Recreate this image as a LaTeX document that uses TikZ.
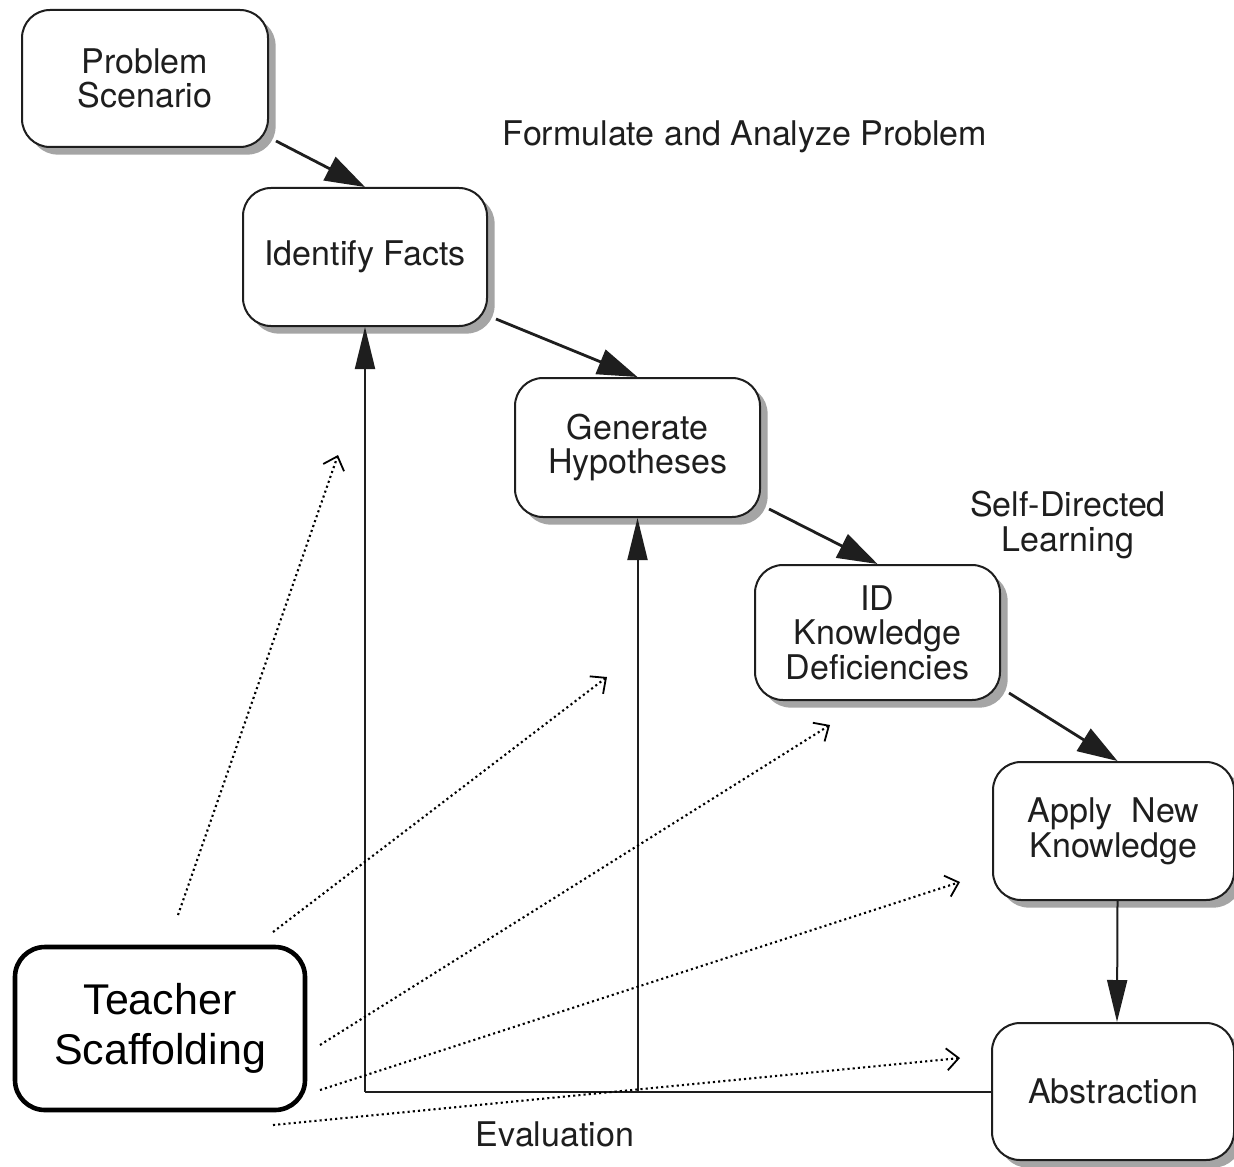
\documentclass[tikz,border=0pt]{standalone}
\usepackage{fontspec}
\setmainfont{TeX Gyre Heros}
\newfontfamily\arialfont{Liberation Sans}
\usetikzlibrary{arrows.meta,shadows,calc}
\definecolor{ink}{HTML}{1E1E1E}
\definecolor{shade}{HTML}{A5A5A5}
\begin{document}
\begin{tikzpicture}[x=0.5pt,y=-0.5pt,
  stepbox/.style={draw=ink,line width=1pt,rounded corners=14pt,fill=white,
    align=center,text=ink,font=\fontsize{17}{17.3}\selectfont,inner sep=0pt,
    drop shadow={shadow xshift=3.8pt,shadow yshift=-3.8pt,fill=shade,opacity=1}},
  teacherbox/.style={draw=black,line width=2.3pt,rounded corners=15pt,fill=white,
    align=center,font=\arialfont\fontsize{21.5}{25}\selectfont,inner sep=0pt},
  plainlabel/.style={text=ink,align=center,font=\fontsize{17}{17.5}\selectfont},
  bigarrow/.style={draw=ink,line width=1.4pt,-{Triangle[length=20pt,width=13pt]}},
  evalarrow/.style={draw=ink,line width=1pt,-{Triangle[length=21pt,width=10pt]}},
  evalline/.style={draw=ink,line width=1pt},
  scaffarrow/.style={draw=black,line width=1.05pt,dash pattern=on 1.05pt off 1.55pt,
    -{Straight Barb[length=6pt,width=11pt,line width=0.9pt]}}
]
\useasboundingbox[fill=white] (0,0) rectangle (1234,1166);

\node[stepbox,minimum width=123pt,minimum height=68.5pt] (PS) at (145,78.5) {Problem\\Scenario};
\node[stepbox,minimum width=122pt,minimum height=69pt] (IF) at (365,257) {Identify Facts};
\node[stepbox,minimum width=122.5pt,minimum height=69.5pt] (GH) at (637.5,447.5) {Generate\\Hypotheses};
\node[stepbox,minimum width=122.5pt,minimum height=67.5pt] (ID) at (877.5,632.5) {ID\\Knowledge\\Deficiencies};
\node[stepbox,minimum width=120.5pt,minimum height=69pt] (AN) at (1113.5,831) {Apply\ \ New\\Knowledge};
\node[stepbox,minimum width=121pt,minimum height=68.5pt] (AB) at (1113,1091.5) {Abstraction};
\node[teacherbox,minimum width=145pt,minimum height=81.5pt] (TS) at (160,1028.5) {Teacher\\Scaffolding};

\node[plainlabel] (FA) at (745,137) {Formulate and Analyze Problem};
\node[plainlabel] (SD) at (1068,525) {Self-Directed\\Learning};
\node[plainlabel] (EV) at (555,1134) {Evaluation};

\draw[bigarrow] ($(PS.south east)+(7,-7)$) -- (IF.north);
\draw[bigarrow] ($(IF.south east)+(8,-8)$) -- (GH.north);
\draw[bigarrow] ($(GH.south east)+(8,-9)$) -- (ID.north);
\draw[bigarrow] ($(ID.south east)+(8,-8)$) -- ($(AN.north)+(4,0)$);
\draw[evalarrow] ($(AN.south)+(4,0)$) -- ($(AB.north)+(4,0)$);

\coordinate (ev1) at (IF.south |- AB.west);
\coordinate (ev2) at (GH.south |- AB.west);
\draw[evalline] (AB.west) -- (ev1);
\draw[evalarrow] (ev1) -- (IF.south);
\draw[evalarrow] (ev2) -- (GH.south);

\coordinate (s1) at (178,915);  \coordinate (t1) at (338,455);
\coordinate (s2) at (273,932);  \coordinate (t2) at (607,677);
\coordinate (s3) at (320,1045); \coordinate (t3) at (830,725);
\coordinate (s4) at (320,1090); \coordinate (t4) at (960,882);
\coordinate (s5) at (273,1125); \coordinate (t5) at (960,1058);
\foreach \i in {1,...,5} {\draw[scaffarrow] (s\i) -- (t\i);}
\end{tikzpicture}
\end{document}
